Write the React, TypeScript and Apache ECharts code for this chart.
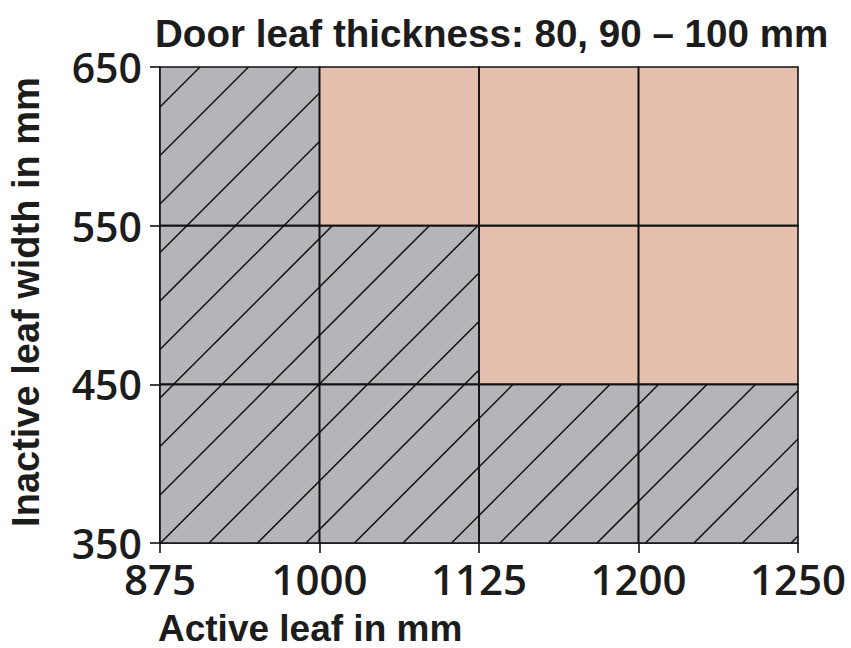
import React, { useEffect, useRef } from "react";
import * as echarts from "echarts";

const xTickLabels = ["875", "1000", "1125", "1200", "1250"];
const yTickLabels = ["350", "450", "550", "650"];
// status per cell, columns left-to-right: 0 = hatched (not possible), 1 = possible
const row350to450 = [0, 0, 0, 0];
const row450to550 = [0, 0, 1, 1];
const row550to650 = [0, 1, 1, 1];
const rows = [row350to450, row450to550, row550to650];

const titleText = "Door leaf thickness: 80, 90 \u2013 100 mm";
const xName = "Active leaf in mm";
const yName = "Inactive leaf width in mm";

const FONT = "'Liberation Sans', Arial, sans-serif";
const TICKFONT = "'Open Sans', 'Liberation Sans', Arial, sans-serif";
const TEXT = "#1c1c1c";
const GRAY = "#b5b5b9";
const PINK = "#e5bfae";
const HATCH_STEP = 48.5;
const HATCH_PHASE = 267;

export default function App() {
  const ref = useRef<HTMLDivElement>(null);
  useEffect(() => {
    if (!ref.current) return;
    const chart = echarts.init(ref.current, undefined, { renderer: "svg" });
    const cells: number[][] = [];
    rows.forEach((row, yi) => row.forEach((s, xi) => cells.push([xi, yi, s])));

    const renderFill = (params: any, api: any) => {
      const xi = api.value(0);
      const yi = api.value(1);
      const kind = api.value(2);
      const p0 = api.coord([xi, yi]);
      const p1 = api.coord([xi + 1, yi + 1]);
      const x0 = p0[0], x1 = p1[0], y0 = p1[1], y1 = p0[1];
      const children: any[] = [
        {
          type: "rect",
          shape: { x: x0, y: y0, width: x1 - x0, height: y1 - y0 },
          style: { fill: kind === 1 ? PINK : GRAY, stroke: null },
        },
      ];
      if (kind === 0) {
        const start = Math.ceil((x0 + y0 - HATCH_PHASE) / HATCH_STEP) * HATCH_STEP + HATCH_PHASE;
        for (let c = start; c < x1 + y1; c += HATCH_STEP) {
          const xa = Math.max(x0, c - y1);
          const xb = Math.min(x1, c - y0);
          if (xb - xa > 0.5) {
            children.push({
              type: "line",
              shape: { x1: xa, y1: c - xa, x2: xb, y2: c - xb },
              style: { stroke: "#111", lineWidth: 1.5 },
            });
          }
        }
      }
      return { type: "group", children };
    };

    const renderBorder = (params: any, api: any) => {
      const xi = api.value(0);
      const yi = api.value(1);
      const p0 = api.coord([xi, yi]);
      const p1 = api.coord([xi + 1, yi + 1]);
      return {
        type: "rect",
        shape: { x: p0[0], y: p1[1], width: p1[0] - p0[0], height: p0[1] - p1[1] },
        style: { fill: null, stroke: "#111", lineWidth: 1.6 },
      };
    };

    chart.setOption({
      animation: false,
      grid: { left: 160, right: 53, top: 67, bottom: 105 },
      xAxis: {
        type: "value",
        min: 0,
        max: 4,
        interval: 1,
        axisLine: { show: true, lineStyle: { color: "#111", width: 1.6 } },
        axisTick: { show: true, length: 10, lineStyle: { color: "#111", width: 1.6 } },
        splitLine: { show: false },
        axisLabel: {
          formatter: (v: number) => xTickLabels[v] ?? "",
          fontFamily: TICKFONT,
          fontWeight: 600,
          fontSize: 42,
          color: TEXT,
          margin: 14,
        },
      },
      yAxis: {
        type: "value",
        min: 0,
        max: 3,
        interval: 1,
        axisLine: { show: true, lineStyle: { color: "#111", width: 1.6 } },
        axisTick: { show: true, length: 10, lineStyle: { color: "#111", width: 1.6 } },
        splitLine: { show: false },
        axisLabel: {
          formatter: (v: number) => yTickLabels[v] ?? "",
          fontFamily: TICKFONT,
          fontWeight: 600,
          fontSize: 41,
          color: TEXT,
          margin: 18,
        },
      },
      series: [
        { type: "custom", renderItem: renderFill, data: cells, z: 2 },
        { type: "custom", renderItem: renderBorder, data: cells, z: 3 },
      ],
      graphic: [
        {
          type: "text",
          x: 155,
          y: 33,
          style: { text: titleText, font: `bold 38.6px ${FONT}`, fill: TEXT, verticalAlign: "middle" },
        },
        {
          type: "text",
          x: 158,
          y: 628,
          style: { text: xName, font: `bold 37px ${FONT}`, fill: TEXT, verticalAlign: "middle" },
        },
        {
          type: "text",
          x: 26,
          y: 302,
          rotation: Math.PI / 2,
          style: {
            text: yName,
            font: `bold 38px ${FONT}`,
            fill: TEXT,
            align: "center",
            verticalAlign: "middle",
          },
        },
      ],
    });
    return () => chart.dispose();
  }, []);
  return <div ref={ref} style={{ width: 851, height: 648, position: "absolute", left: 0, top: 0 }} />;
}
